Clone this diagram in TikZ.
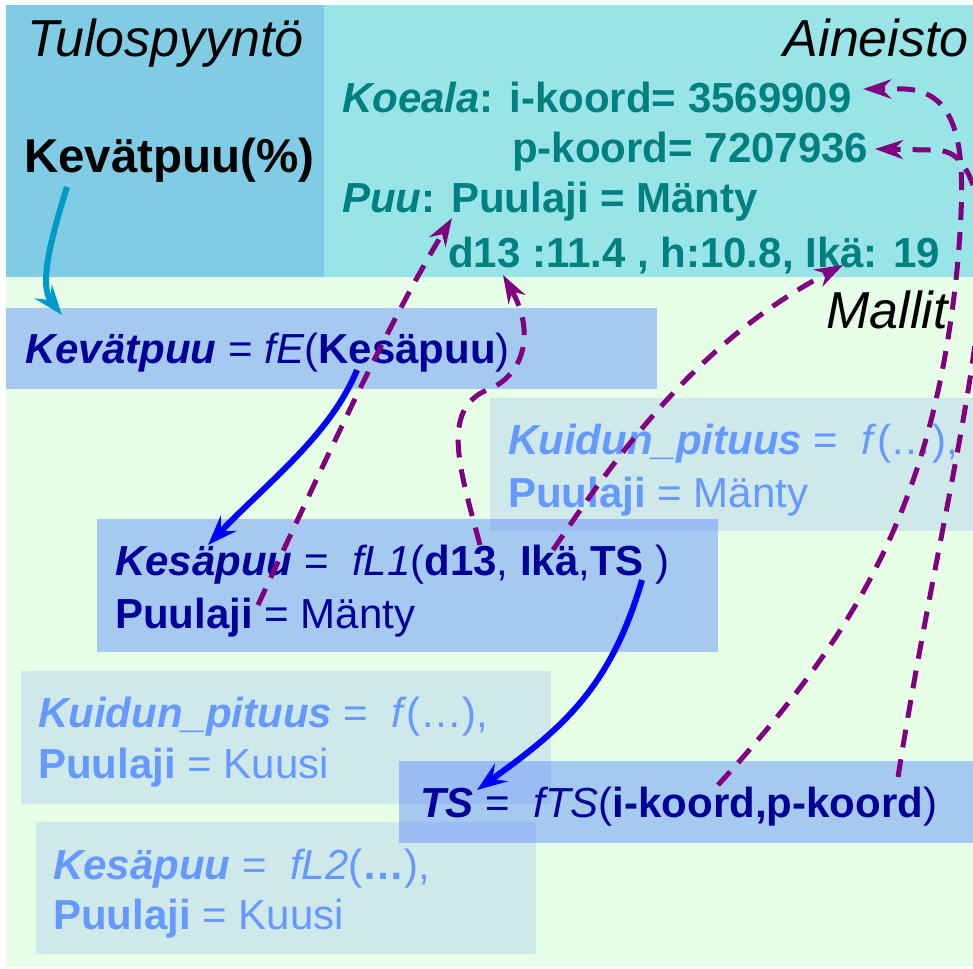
\documentclass[tikz,border=0pt]{standalone}
\usepackage{fontspec}
\setmainfont{Liberation Sans}
\usetikzlibrary{arrows.meta}

\definecolor{pyyntopohja}{RGB}{128,204,228}
\definecolor{aineistopohja}{RGB}{153,228,230}
\definecolor{mallipohja}{RGB}{230,255,230}
\definecolor{mallisini}{RGB}{83,133,253}
\definecolor{muupohja}{RGB}{207,233,235}
\definecolor{aineistoteksti}{RGB}{0,128,128}
\definecolor{malliteksti}{RGB}{0,0,153}
\definecolor{vaaleateksti}{RGB}{102,153,255}
\definecolor{violetti}{RGB}{128,0,128}
\definecolor{sininen}{RGB}{0,0,255}
\definecolor{syaani}{RGB}{0,153,204}

\newcommand{\bitx}[1]{{\bfseries\itshape #1}}

\begin{document}
\begin{tikzpicture}[x=1pt, y=-1pt,
    otsikko/.style={font=\fontsize{52}{60}\selectfont\itshape, inner sep=0pt},
    datarivi/.style={font=\fontsize{42}{50}\selectfont\bfseries, text=aineistoteksti, inner sep=0pt, anchor=base west},
    mallirivi/.style={font=\fontsize{42}{50}\selectfont, text=malliteksti, inner sep=0pt, anchor=base west},
    muurivi/.style={mallirivi, text=vaaleateksti},
    mallilaatikko/.style={fill=mallisini, fill opacity=0.435},
    muulaatikko/.style={fill=muupohja},
    viite/.style={violetti, line width=5pt, dash pattern=on 18pt off 12pt, -{Stealth[length=28pt, width=19pt, inset=9pt]}},
    kutsu/.style={line width=6pt, -{Stealth[length=30pt, width=22pt, inset=11pt]}}]
  \useasboundingbox (0,0) rectangle (973,968);
  \fill[white] (0,0) rectangle (973,968);
  \clip (0,0) rectangle (973,968);
  \fill[mallipohja] (6,5) rectangle (973,967);
  \fill[pyyntopohja] (6,5) rectangle (324,277);
  \fill[aineistopohja] (324,5) rectangle (973,277);
  % muut mallit
  \fill[muulaatikko] (490,398) rectangle (973,531);
  \fill[muulaatikko] (21,671) rectangle (551,804);
  \fill[muulaatikko] (36,822) rectangle (536,954);
  % kaytetyt mallit
  \fill[mallilaatikko] (6,308) rectangle (657,389);
  \fill[mallilaatikko] (97,519) rectangle (718,652);
  \fill[mallilaatikko] (399,761) rectangle (973,843);

  \node[otsikko, anchor=base west] (tulospyynto) at (27,57) {Tulospyyntö};
  \node[font=\fontsize{47.5}{55}\selectfont\bfseries, inner sep=0pt, anchor=base west] (kevatpros) at (24,173) {Kevätpuu(\%)};
  \node[otsikko, anchor=base east] (aineisto) at (969,57) {Aineisto};
  \node[otsikko, anchor=base east] (mallit) at (948,328) {Mallit};

  \node[datarivi] (koeala) at (342,113) {\textit{Koeala}: i-koord= 3569909};
  \node[datarivi] (pkoord) at (512,163) {p-koord= 7207936};
  \node[datarivi] (puu) at (342,213) {\textit{Puu}: Puulaji = Mänty};
  \node[datarivi] (mitat) at (448,267) {d13 :11.4 , h:10.8, Ikä: 19};

  \node[mallirivi] (kevat) at (25,363) {\bitx{Kevätpuu} = \textit{fE}(\textbf{Kesäpuu})};
  \node[mallirivi] (kesa1) at (115,575) {\bitx{Kesäpuu} =\ \ \textit{fL1}(\textbf{d13}, \textbf{Ikä},\textbf{TS} )};
  \node[mallirivi] (kesa1laji) at (115,628) {\textbf{Puulaji} = Mänty};
  \node[muurivi] (kuitu1) at (508,454) {\bitx{Kuidun\_pituus} =\ \ \textit{f}(…),};
  \node[muurivi] (kuitu1laji) at (508,507) {\textbf{Puulaji} = Mänty};
  \node[muurivi] (kuitu2) at (38,727) {\bitx{Kuidun\_pituus} =\ \ \textit{f}(…),};
  \node[muurivi] (kuitu2laji) at (38,778) {\textbf{Puulaji} = Kuusi};
  \node[muurivi] (kesa2) at (53,879) {\bitx{Kesäpuu} =\ \ \textit{fL2}(\textbf{…}),};
  \node[muurivi] (kesa2laji) at (53,929) {\textbf{Puulaji} = Kuusi};
  \node[mallirivi] (ts) at (420,817) {\bitx{TS} =\ \ \textit{fTS}(\textbf{i-koord,p-koord})};

  \coordinate (pyyntoAla) at (67,187);
  \coordinate (kevatYla) at (62,315);
  \coordinate (kesaLahto) at (357,370);
  \coordinate (kesaKarki) at (208,545);
  \coordinate (tsLahto) at (642,580);
  \coordinate (tsKarki) at (477,790);
  \coordinate (kesaPuulaji) at (258,605);
  \coordinate (puuPuulaji) at (452,218);
  \coordinate (kesaD13) at (480,545);
  \coordinate (puuD13) at (503,275);
  \coordinate (kesaIka) at (553,550);
  \coordinate (puuIka) at (843,265);
  \coordinate (tsIkoord) at (718,785);
  \coordinate (koealaI) at (863,89);
  \coordinate (tsPkoord) at (898,777);
  \coordinate (koealaP) at (875,149);

  \draw[kutsu, syaani] (pyyntoAla) .. controls (52,235) and (38,285) .. (kevatYla);
  \draw[kutsu, sininen] (kesaLahto) .. controls (330,435) and (270,480) .. (kesaKarki);
  \draw[kutsu, sininen] (tsLahto) .. controls (610,690) and (560,730) .. (tsKarki);

  \draw[viite] (kesaPuulaji) .. controls (330,450) and (390,320) .. (puuPuulaji);
  \draw[viite] (kesaD13) .. controls (460,470) and (440,410) .. (487,390) .. controls (522,377) and (537,335) .. (puuD13);
  \draw[viite] (kesaIka) .. controls (620,450) and (700,340) .. (puuIka);
  \draw[viite] (tsIkoord) .. controls (860,630) and (935,500) .. (958,260) .. controls (965,170) and (968,92) .. (905,89) -- (koealaI);
  \draw[viite] (tsPkoord) .. controls (945,480) and (1015,250) .. (965,168) .. controls (955,152) and (945,150) .. (930,150) -- (koealaP);
\end{tikzpicture}
\end{document}
